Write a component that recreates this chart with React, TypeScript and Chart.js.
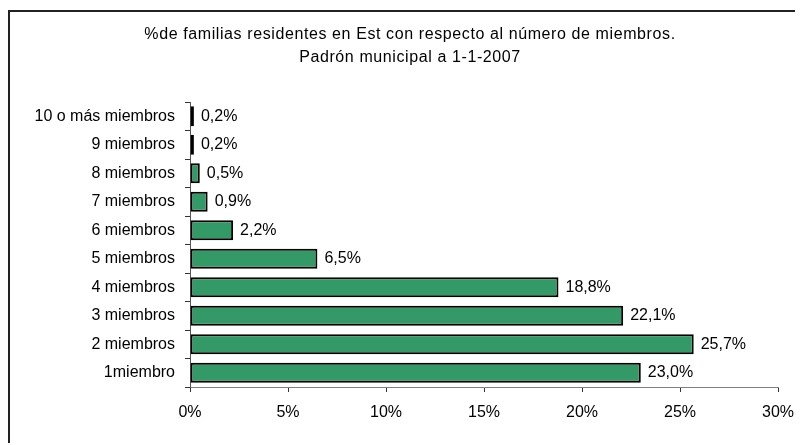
import React, { useEffect, useRef } from "react";
import { Chart, registerables } from "chart.js";

Chart.register(...registerables);

const categories = [
  "1miembro",
  "2 miembros",
  "3 miembros",
  "4 miembros",
  "5 miembros",
  "6 miembros",
  "7 miembros",
  "8 miembros",
  "9 miembros",
  "10 o más miembros",
];
const values = [23.0, 25.7, 22.1, 18.8, 6.5, 2.2, 0.9, 0.5, 0.2, 0.2];
const titleLines = [
  "%de familias residentes en Est con respecto al número de miembros.",
  "Padrón municipal a 1-1-2007",
];
const xTicks = [0, 5, 10, 15, 20, 25, 30];

const FONT = "'Liberation Sans', Arial, sans-serif";
const FS = 16;

const fmt = (v: number) => v.toFixed(1).replace(".", ",") + "%";

export default function App() {
  const ref = useRef<HTMLCanvasElement | null>(null);
  useEffect(() => {
    if (!ref.current) return;
    const titlePlugin = {
      id: "titleLines",
      afterDraw(chart: any) {
        const ctx = chart.ctx;
        ctx.save();
        ctx.fillStyle = "#000";
        ctx.font = `${FS}px ${FONT}`;
        (ctx as any).letterSpacing = "0.6px";
        ctx.textAlign = "center";
        ctx.textBaseline = "middle";
        titleLines.forEach((t, i) => ctx.fillText(t, 400, 23 + i * 23));
        ctx.restore();
      },
    };
    const labelPlugin = {
      id: "barLabels",
      afterDatasetsDraw(chart: any) {
        const ctx = chart.ctx;
        const meta = chart.getDatasetMeta(0);
        ctx.save();
        ctx.fillStyle = "#000";
        ctx.font = `${FS}px ${FONT}`;
        ctx.textAlign = "left";
        ctx.textBaseline = "middle";
        meta.data.forEach((el: any, i: number) => {
          ctx.fillText(fmt(values[i]), el.x + 7, el.y);
        });
        ctx.restore();
      },
    };
    const chart = new Chart(ref.current, {
      type: "bar",
      data: {
        labels: categories,
        datasets: [
          {
            data: values,
            backgroundColor: "#339966",
            borderColor: "#000",
            borderWidth: 2,
            borderSkipped: false,
            barPercentage: 0.7,
            categoryPercentage: 1,
          },
        ],
      },
      options: {
        indexAxis: "y",
        animation: false,
        responsive: false,
        layout: { padding: { top: 90, right: 25, left: 0, bottom: 0 } },
        plugins: { legend: { display: false }, tooltip: { enabled: false }, title: { display: false } },
        scales: {
          x: {
            min: 0,
            max: 30,
            afterBuildTicks: (s: any) => {
              s.ticks = xTicks.map((v) => ({ value: v }));
            },
            afterFit: (s: any) => {
              s.height = 58;
              s.paddingLeft = 0;
              s.paddingRight = 0;
            },
            border: { display: true, color: "#808080", width: 1 },
            grid: { display: true, drawOnChartArea: false, drawTicks: true, tickLength: 5, color: "#333" },
            ticks: {
              color: "#000",
              font: { family: FONT, size: FS },
              padding: 11,
              maxRotation: 0,
              callback: (v: any) => v + "%",
            },
          },
          y: {
            reverse: true,
            afterFit: (s: any) => {
              s.width = 180;
            },
            border: { display: true, color: "#555", width: 1 },
            grid: { display: true, offset: true, drawOnChartArea: false, drawTicks: true, tickLength: 5, color: "#333" },
            ticks: {
              color: "#000",
              font: { family: FONT, size: FS },
              padding: 10,
            },
          },
        },
      },
      plugins: [titlePlugin, labelPlugin],
    });
    return () => chart.destroy();
  }, []);
  return (
    <div
      style={{
        position: "relative",
        top: 2,
        width: 795,
        height: 435,
        overflow: "hidden",
        borderTop: "2px solid #222",
        borderLeft: "2px solid #222",
        boxSizing: "border-box",
        background: "#fff",
      }}
    >
      <canvas ref={ref} width={793} height={433} style={{ display: "block" }} />
    </div>
  );
}
